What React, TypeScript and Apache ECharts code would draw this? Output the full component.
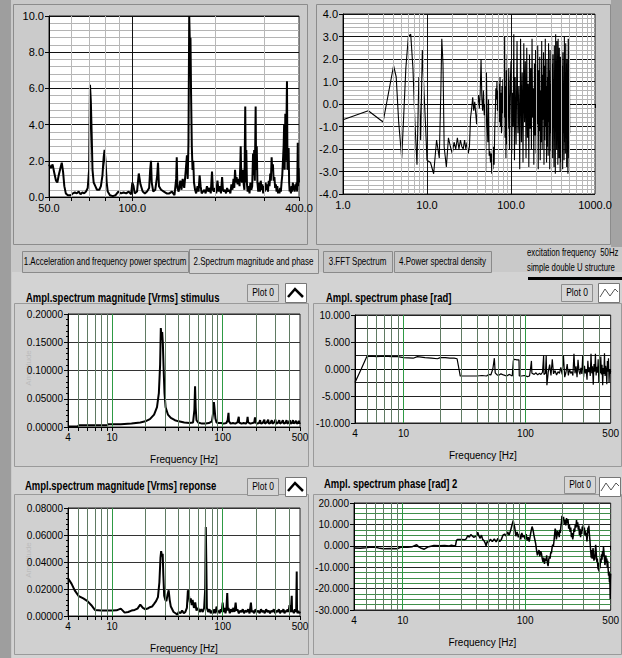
import React, { useEffect, useRef } from "react";
import * as echarts from "echarts";

// ---------- DATA ----------
// Chart 1: acceleration spectrum (50..400 Hz)
const accelSpectrum: number[][] = [
  [50,1.8],[50.8,1.6],[51.5,1.8],[52.3,1.3],[53,0.9],[53.6,0.8],[54.2,1.2],[55,1.6],[55.6,1.9],[56.2,1.4],[56.8,0.6],[57.5,0.2],[58.5,0.1],[60,0.1],[61,0.2],[62,0.25],[63,0.2],[64,0.3],[65,0.15],[66,0.25],[67,0.2],[68,0.3],[69,0.5],[69.8,1.5],[70.3,6.2],[70.8,5.3],[71.3,3.5],[71.8,1.5],[72.5,0.8],[73.5,0.6],[74.5,0.4],[76,0.4],[77,0.6],[78,1.2],[78.8,2.2],[79.4,2.6],[80,2.0],[80.8,0.8],[81.5,0.3],[83,0.1],[85,0.05],[87,0.1],[89,0.3],[91,0.2],[93,0.25],[95,0.2],[97,0.3],[99,0.15],[100,0.8],[101,0.6],[102,0.2],[104,0.3],[105.5,1.3],[107,0.7],[109,0.3],[111,0.2],[113,0.3],[115,0.5],[116,1.5],[116.8,2.0],[117.5,0.8],[119,0.3],[121,0.4],[123,1.2],[123.8,1.9],[124.8,0.6],[127,0.4],[130,0.3],[133,0.2],[136,0.2],[139,0.3],[142,0.1],[144,1.0],[144.7,2.2],[145.5,0.5],[147,0.3],[149,0.9],[150.5,0.4],[152,1.0],[154,0.5],[156,1.5],[157.5,2.3],[158.5,1.0],[159.5,3.0],[160.5,10.0],[161.3,8.6],[162.2,8.8],[163,5.7],[164,2.8],[165,1.5],[166,2.0],[167,0.8],[168.5,0.4],[170,0.2],[172,0.6],[173.5,0.3],[175,1.2],[176.5,0.6],[178,0.2],[180,0.3],[182,0.4],[184,0.2],[186,0.6],[188,0.3],[190,0.5],[192,0.2],[194,1.4],[195.5,0.4],[197,0.3],[199,0.5],[201,0.2],[203,0.9],[205,0.3],[207,0.6],[209,0.2],[211,1.1],[212.5,0.4],[214,0.3],[216,0.4],[218,0.2],[220,0.5],[222,0.3],[224,0.4],[226,0.2],[228,0.7],[230,0.4],[232,1.0],[233.5,0.5],[235,1.5],[236.5,0.8],[238,1.1],[240,0.7],[242,1.0],[244,0.6],[245.5,1.8],[246.3,2.8],[247.5,1.0],[249,0.8],[251,1.5],[252.5,0.7],[254,0.4],[255.8,5.0],[257,0.8],[258,2.6],[259.5,0.7],[261,0.3],[263,0.6],[265,0.2],[267,0.8],[269,0.4],[271,0.6],[273,2.4],[274.5,1.2],[275.5,2.6],[277,0.9],[278.9,5.0],[280,1.5],[281.5,2.8],[283,0.8],[285,0.3],[287,0.8],[289,0.3],[291,0.9],[293,0.4],[295,0.7],[297,0.2],[299,0.6],[301,0.3],[303,0.8],[305,0.4],[307,0.7],[309,0.3],[311,0.9],[313,0.6],[315,1.3],[316.5,0.9],[318.6,2.2],[320,1.5],[322,1.8],[324,0.9],[326,1.1],[328,0.5],[330,0.7],[332,0.3],[334,0.6],[336,0.2],[338,0.4],[340,0.2],[342,0.5],[344,0.3],[346,0.8],[348,1.2],[350,2.0],[352,2.8],[353.5,4.0],[355,1.5],[357,4.6],[359,2.0],[361.9,6.4],[363.5,1.5],[365,2.0],[366.9,2.7],[368.5,0.8],[370,0.3],[372,0.5],[374,0.2],[376,0.6],[378,0.3],[380,0.8],[382,0.4],[384,0.6],[386,0.3],[388,0.7],[390,0.4],[392,0.8],[394,0.3],[395.9,3.0],[397,0.6],[398.5,1.6],[400,0.8]
];

// Chart 2: FFT trace (1..1000 Hz)
const fftTrace: number[][] = [
  [1,-0.7],[2,-0.3],[3,-0.8],[4,1.7],[4.3,1.2],[4.6,-0.8],[5,-2.4],[5.3,-0.4],[5.6,1.6],[6,3.0],[6.4,3.1],[6.8,1.6],[7.2,-0.9],[7.6,-2.7],[8.0,1.2],[8.4,-1.6],[8.8,2.4],[9.2,0.6],[9.6,-0.9],[10,-2.5],[11,-2.6],[12,-3.1],[13,-1.6],[14,-2.4],[14.6,0.5],[15,2.9],[15.5,1.8],[16,-1.9],[17,-2.8],[18,-1.5],[19,-1.9],[20,-2.2],[21,-1.7],[22,-2.0],[23,-1.5],[24,-2.0],[25,-1.6],[26,-1.9],[27,-2.0],[28,-1.6],[29,-2.0],[30,-1.7],[31,-2.2],[32,-1.9],[33,-0.6],[34,-0.2],[35,0.3],[36,-0.3],[37,0.1],[38,-0.4],[39,-0.9],[40,0.0],[41,0.4],[42,-0.2],[43,0.5],[44,2.0],[45,0.2],[46,-0.3],[47,0.6],[48,-0.5],[49,0.0],[50,-3.0],[51,1.4],[52,-0.8],[53,-1.7],[54,0.2],[55,-2.3],[56,-2.1],[57,-2.6],[58,-2.2],[59,-3.1],[60,-2.0],[61,-2.9],[62,-1.9],[63,-2.7],[64,-1.2],[65,-0.4],[66,0.7],[67,0.2],[68,1.0],[69,-0.3],[70,0.6],[71,-1.4],[72,0.9],[73,-0.8],[74,1.2],[75,-1.0],[76,0.5],[77,-1.3],[78,0.8],[79,-0.4],[80,1.1],[81,-1.2],[82,0.4],[83,-0.6],[84,3.0],[85,-1.5],[86,0.8],[87,-2.4],[88,1.5],[89,-1.8],[90,2.2],[92,-1.1],[94,1.6],[96,-2.0],[98,0.9],
  [100,1.9],[102,-2.2],[104,0.5],[106,-1.0],[108,3.1],[110,-2.5],[112,1.2],[115,-1.8],[118,2.8],[121,-1.3],[124,0.8],[127,-2.9],[130,2.9],[133,-1.7],[136,1.4],[139,-2.6],[142,2.7],[145,-0.8],[148,1.9],[151,-2.4],[154,2.5],[157,-1.5],[160,0.9],[163,-2.8],[166,2.2],[169,-1.1],[172,1.6],[175,-2.0],[178,2.9],[181,-0.6],[184,0.7],[187,-2.7],[190,1.8],[193,-1.4],[196,2.4],[199,-2.2],[202,1.0],[205,-0.9],[208,2.6],[211,-2.9],[214,1.5],[217,-1.2],[220,2.1],[223,-2.5],[226,0.6],[229,-1.7],[232,2.8],[235,-2.0],[238,1.3],[241,-0.7],[244,2.3],[247,-2.7],[250,1.7],[253,-1.6],[256,2.9],[259,-1.0],[262,0.8],[265,-2.6],[268,2.0],[271,-1.9],[274,1.2],[277,-2.3],[280,2.7],[283,-0.8],[286,1.5],[289,-2.9],[292,2.4],[295,-1.3],[298,0.9],[301,-2.1],[304,3.0],[307,-1.6],[310,1.8],[313,-2.4],[316,2.2],[319,-0.9],[322,1.1],[325,-2.8],[328,2.6],[331,-1.4],[334,0.7],[337,-3.1],[340,3.1],[343,-1.2],[346,1.9],[349,-2.0],[352,2.8],[355,-0.6],[358,1.4],[361,-2.7],[364,2.9],[367,-1.8],[370,0.8],[373,-2.4],[376,2.5],[379,-1.1],[382,1.6],[385,-3.0],[388,2.1],[391,-1.5],[394,1.0],[397,-2.6],[400,2.8],[404,-0.8],[408,1.7],[412,-2.9],[416,2.3],[420,-1.3],[424,0.9],[428,-2.5],[432,3.0],[436,-1.7],[440,1.4],[444,-2.2],[448,2.7],[452,-0.9],[456,1.8],[460,-2.8],[464,2.0],[468,-1.4],[472,0.6],[476,-3.1],[480,2.9],[484,-1.0],[488,1.5],[492,-2.4],[496,2.9],[500,-1.3]
];

// Chart 3: stimulus magnitude [Vrms]
const stimulusMag: number[][] = [
  [4,0.001],[4.9,0.001],[5,0.003],[7,0.003],[9,0.003],[9.3,0.005],[12,0.005],[15,0.006],[18,0.008],[20,0.010],[22,0.014],[24,0.022],[25.5,0.035],[26.5,0.06],[27.2,0.11],[27.6,0.175],[28,0.16],[28.4,0.168],[28.8,0.148],[29.3,0.10],[29.8,0.06],[30.5,0.035],[32,0.022],[34,0.016],[37,0.012],[40,0.010],[45,0.008],[50,0.007],[54,0.008],[55.5,0.03],[56.3,0.072],[57,0.035],[58,0.012],[60,0.008],[65,0.006],[70,0.006],[75,0.007],[80,0.01],[82,0.025],[83.3,0.044],[84.5,0.032],[86,0.015],[88,0.008],[92,0.007],[97,0.007],[102,0.006],[108,0.007],[111,0.012],[112.9,0.025],[114,0.01],[118,0.006],[124,0.007],[130,0.006],[136,0.008],[139.8,0.018],[141,0.008],[148,0.006],[155,0.007],[162,0.006],[166,0.009],[168,0.018],[170,0.008],[178,0.006],[186,0.007],[193,0.008],[196,0.017],[198,0.008],[205,0.006],[213,0.007],[218,0.012],[221,0.006],[230,0.007],[238,0.013],[241,0.006],[250,0.008],[258,0.013],[261,0.006],[270,0.007],[278,0.012],[282,0.006],[292,0.008],[300,0.013],[304,0.006],[315,0.007],[325,0.012],[330,0.006],[342,0.008],[350,0.012],[356,0.006],[368,0.007],[378,0.012],[384,0.006],[396,0.008],[405,0.012],[410,0.006],[422,0.007],[432,0.012],[438,0.006],[450,0.008],[460,0.011],[466,0.006],[478,0.007],[488,0.011],[494,0.006],[500,0.008]
];

// Chart 4: stimulus phase [rad]
const stimulusPhase: number[][] = [
  [4,-2.5],[4.5,0.0],[5,2.3],[5.5,2.4],[6,2.3],[7,2.4],[8,2.3],[9,2.3],[10,2.1],[12,2.0],[13,2.3],[15,2.1],[17,2.0],[19,1.9],[20,2.1],[22,2.1],[24,2.0],[26,2.0],[27.5,1.9],[28.5,0.0],[29.2,-1.3],[32,-1.3],[36,-1.3],[40,-1.3],[44,-1.2],[48,-1.3],[50,-1.0],[52,-1.1],[54,0.0],[55.6,2.0],[56.5,-0.7],[58,-1.0],[60,-1.2],[63,-0.9],[66,-1.1],[70,-1.3],[74,-1.0],[78,-1.3],[79.5,1.5],[81,1.8],[85,1.7],[88.5,1.7],[89,-1.3],[93,-1.3],[98,-1.2],[104,-1.4],[108,-1.3],[110,0.0],[112,1.5],[113,-0.8],[118,-1.0],[122,-0.7],[126,-1.1],[130,-0.8],[134,-1.0],[138,-0.6],[141,2.5],[142,-1.0],[146,-0.8],[148,2.5],[150,-3.0],[154,-0.5],[158,0.8],[162,-1.2],[166,1.8],[170,-0.9],[175,-0.3],[180,-1.1],[185,-0.5],[190,-0.8],[195,0.3],[200,-1.0],[205,2.5],[210,-1.5],[215,-0.6],[220,0.9],[225,-1.2],[230,0.0],[235,-0.8],[240,-0.5],[245,-1.2],[250,2.8],[255,-0.8],[260,0.5],[265,-1.5],[270,1.7],[275,-0.4],[280,-1.0],[285,0.2],[290,-0.9],[295,2.5],[300,-1.5],[305,0.6],[310,-0.8],[315,-0.2],[320,-2.0],[325,1.5],[330,-0.6],[335,0.3],[340,-1.3],[345,2.8],[350,-0.8],[355,0.5],[360,-2.9],[365,0.9],[370,-0.5],[375,2.8],[380,-1.2],[385,0.4],[390,-0.7],[395,1.8],[400,-2.6],[405,0.5],[410,-0.8],[415,2.3],[420,-1.0],[425,0.8],[430,-3.0],[435,0.2],[440,-0.9],[445,2.9],[450,-1.3],[455,0.6],[460,-0.3],[465,-2.8],[470,1.5],[475,-0.5],[480,2.0],[485,-2.5],[490,0.0],[495,-0.9],[500,-0.4]
];

// Chart 5: response magnitude [Vrms]
const responseMag: number[][] = [
  [4,0.028],[4.3,0.024],[4.6,0.019],[5,0.0147],[5.5,0.013],[6,0.011],[6.5,0.008],[7,0.0045],[8,0.004],[9,0.004],[10,0.004],[11,0.0042],[12,0.0055],[12.5,0.004],[13,0.0025],[14,0.003],[15,0.004],[16,0.0045],[17,0.0055],[18,0.0085],[19,0.006],[20,0.005],[21,0.0055],[22,0.0065],[23,0.007],[24,0.009],[25,0.011],[26,0.014],[26.8,0.025],[27.4,0.043],[27.8,0.048],[28.3,0.044],[28.7,0.046],[29.1,0.03],[29.6,0.015],[30.3,0.012],[31,0.011],[31.8,0.016],[32.5,0.019],[33.2,0.012],[34,0.007],[35,0.005],[36,0.003],[37.5,0.002],[39,0.001],[40,0.003],[41.5,0.002],[43,0.004],[44.5,0.002],[46,0.003],[47.5,0.006],[48.5,0.019],[49.5,0.016],[50.5,0.01],[51.5,0.013],[52.5,0.008],[53.5,0.012],[55,0.006],[56.5,0.01],[58,0.004],[60,0.006],[62,0.003],[64,0.005],[66,0.003],[68,0.006],[69.5,0.02],[70.4,0.066],[71.2,0.038],[72,0.006],[74,0.003],[76,0.005],[78,0.002],[80,0.004],[82,0.002],[84,0.005],[86,0.002],[88,0.007],[90,0.003],[92,0.004],[94,0.002],[96,0.005],[98,0.003],[100,0.01],[102,0.003],[104,0.006],[106,0.002],[108,0.005],[110,0.017],[111.5,0.004],[113,0.006],[116,0.002],[119,0.005],[122,0.003],[125,0.006],[128,0.003],[131,0.01],[133,0.004],[136,0.005],[140,0.002],[144,0.004],[148,0.003],[152,0.005],[156,0.002],[160,0.004],[165,0.003],[170,0.005],[175,0.002],[180,0.01],[183,0.003],[188,0.004],[193,0.002],[198,0.005],[204,0.003],[210,0.004],[216,0.002],[222,0.005],[228,0.003],[234,0.004],[240,0.002],[247,0.005],[254,0.003],[261,0.004],[268,0.002],[275,0.004],[282,0.003],[290,0.005],[298,0.002],[306,0.004],[314,0.003],[322,0.005],[330,0.002],[338,0.004],[346,0.003],[354,0.005],[362,0.002],[370,0.004],[378,0.003],[386,0.005],[394,0.003],[402,0.008],[408,0.003],[414,0.004],[421,0.015],[424,0.003],[432,0.004],[440,0.002],[448,0.005],[456,0.003],[462,0.004],[467,0.033],[470,0.004],[476,0.002],[482,0.004],[488,0.002],[494,0.003],[500,0.002]
];

// Chart 6: response phase [rad]
const responsePhase: number[][] = [
  [4,-1.0],[4.5,-1.2],[5,-0.9],[5.5,-0.6],[6,-0.7],[6.5,-1.2],[7,-1.4],[8,-1.3],[9,-1.4],[9.5,-0.8],[10,-0.6],[11,-0.7],[12,-0.4],[13,0.5],[13.5,-0.5],[14,-1.0],[15,-1.6],[16,-0.6],[17,-0.2],[18,0.1],[20,0.0],[22,0.1],[24,-0.1],[25,0.3],[26,0.0],[27,0.1],[27.5,2.5],[28,3.0],[30,3.0],[32,2.8],[33,3.2],[34,4.8],[35,4.0],[36,5.2],[38,4.0],[40,4.5],[41,6.3],[42,4.5],[43,3.5],[44,5.0],[45,3.0],[46,2.5],[47,1.5],[48,0.0],[49,2.0],[50,1.5],[52,3.0],[54,2.0],[56,3.2],[58,1.8],[60,3.5],[62,2.0],[64,3.0],[66,5.0],[68,5.5],[70,4.5],[72,6.5],[74,5.0],[76,7.0],[78,9.5],[80,11.8],[81,10.0],[82,9.0],[83,7.0],[84,4.5],[86,6.5],[88,4.0],[90,5.5],[92,3.0],[94,6.0],[96,4.0],[98,5.0],[100,3.0],[102,5.5],[104,2.5],[106,4.0],[108,2.0],[110,4.5],[112,7.0],[114,9.0],[116,7.5],[118,5.0],[120,3.0],[122,1.0],[124,-2.0],[126,-4.5],[128,-3.0],[130,-2.0],[132,-5.0],[134,-2.5],[136,-3.5],[138,-6.0],[140,-7.5],[142,-5.5],[144,-8.5],[146,-6.0],[148,-7.0],[150,-4.5],[152,-8.0],[154,-9.5],[156,-6.5],[158,-5.0],[160,-6.0],[162,-3.0],[164,-3.5],[166,-1.0],[168,0.5],[170,-0.5],[172,2.0],[174,5.0],[176,8.0],[178,7.0],[180,3.0],[182,4.5],[184,7.0],[186,5.0],[188,6.5],[190,4.0],[192,7.5],[194,6.0],[196,9.0],[198,11.0],[200,14.0],[203,12.0],[206,13.5],[209,10.0],[212,12.0],[215,9.5],[218,13.0],[221,10.5],[224,12.5],[227,8.0],[230,10.0],[233,6.5],[236,8.5],[239,4.0],[242,6.0],[245,3.0],[248,5.0],[251,8.0],[254,6.5],[257,10.0],[260,8.5],[263,12.0],[266,9.0],[269,11.0],[272,7.5],[275,9.5],[278,5.0],[281,8.0],[284,4.0],[287,7.5],[290,5.5],[293,9.0],[296,7.0],[299,10.0],[302,6.0],[305,8.5],[308,5.0],[311,7.0],[314,4.5],[317,6.0],[320,2.0],[323,5.0],[326,8.5],[329,6.0],[332,9.5],[335,5.5],[338,3.0],[341,0.0],[344,-3.0],[347,-5.5],[350,-2.0],[353,-6.0],[356,-3.5],[359,-1.0],[362,-4.0],[365,-7.0],[368,-4.5],[371,-6.5],[374,-3.0],[377,0.5],[380,-2.0],[383,-5.0],[386,-7.5],[389,-6.0],[392,-9.0],[395,-11.0],[398,-8.0],[401,-12.0],[405,-9.0],[409,-10.5],[413,-6.0],[417,-8.0],[421,-4.0],[425,-6.5],[429,-2.5],[433,-5.0],[437,-0.5],[441,-3.0],[445,-6.0],[449,-9.0],[453,-7.0],[457,-4.5],[461,-8.0],[465,-6.0],[469,-10.0],[473,-7.0],[477,-11.0],[481,-14.0],[485,-12.0],[489,-17.0],[492,-13.0],[494,-20.0],[496,-25.0],[498,-16.0],[500,-13.0]
];

// Tick values / grid lines
const ticksTop1 = [50, 60, 70, 80, 90, 100, 200, 300, 400];
const labelsTop1 = [50, 100, 400];
const ticksTop2 = [1, 2, 3, 4, 5, 6, 7, 8, 9, 10, 20, 30, 40, 50, 60, 70, 80, 90, 100, 200, 300, 400, 500, 600, 700, 800, 900, 1000];
const labelsTop2 = [1, 10, 100, 1000];
const ticksLow = [4, 5, 6, 7, 8, 9, 10, 20, 30, 40, 50, 60, 70, 80, 90, 100, 200, 300, 400, 500];
const labelsLow = [4, 10, 100, 500];
const vTop1Light = [60, 70, 80, 90, 200, 300];
const vTop1Dark = [100];
const vTop2Light = [2, 3, 4, 5, 6, 7, 8, 9, 20, 30, 40, 50, 60, 70, 80, 90, 200, 300, 400, 500, 600, 700, 800, 900];
const vTop2Dark = [10, 100];
const vLowDim = [5, 6, 7, 8, 9, 20, 30, 40, 50, 60, 70, 80, 90, 200, 300, 400];
const vLowGreen = [10, 100];

const tabs = [
  "1.Acceleration and frequency power spectrum",
  "2.Spectrum magnitude and phase",
  "3.FFT Spectrum",
  "4.Power spectral density",
];
const infoLines = ["excitation frequency  50Hz", "simple double U structure"];
const panelTitles = [
  "Ampl.spectrum magnitude [Vrms] stimulus",
  "Ampl. spectrum phase [rad]",
  "Ampl.spectrum magnitude [Vrms] reponse",
  "Ampl. spectrum phase [rad] 2",
];

const FONT = '"Liberation Sans", Arial, sans-serif';

function buildOption() {
  const grids = [
    { left: 49, top: 16, width: 250, height: 181 },
    { left: 343, top: 14, width: 252, height: 180 },
    { left: 68, top: 314, width: 232, height: 113 },
    { left: 355, top: 315, width: 259, height: 108 },
    { left: 68, top: 508, width: 232, height: 108 },
    { left: 354, top: 503, width: 260, height: 107 },
  ].map((g) => ({
    ...g,
    show: true,
    backgroundColor: "#ffffff",
    borderColor: "#222",
    borderWidth: 1,
    containLabel: false,
  }));

  const lowFmt = (v: number) => String(Math.round(v));
  const xDefs = [
    { min: 50, max: 400, ticks: ticksTop1, labels: labelsTop1, fmt: (v: number) => v.toFixed(1), size: 11, name: "" },
    { min: 1, max: 1000, ticks: ticksTop2, labels: labelsTop2, fmt: (v: number) => v.toFixed(1), size: 11, name: "" },
    { min: 4, max: 500, ticks: ticksLow, labels: labelsLow, fmt: lowFmt, size: 11, name: "Frequency [Hz]" },
    { min: 4, max: 500, ticks: ticksLow, labels: labelsLow, fmt: lowFmt, size: 11, name: "Frequency [Hz]" },
    { min: 4, max: 500, ticks: ticksLow, labels: labelsLow, fmt: lowFmt, size: 11, name: "Frequency [Hz]" },
    { min: 4, max: 500, ticks: ticksLow, labels: labelsLow, fmt: lowFmt, size: 11, name: "Frequency [Hz]" },
  ];
  const xAxis = xDefs.map((d, i) => ({
    type: "log",
    logBase: 10,
    gridIndex: i,
    min: d.min,
    max: d.max,
    name: d.name,
    nameLocation: "middle",
    nameGap: 27,
    nameTextStyle: { fontFamily: FONT, fontSize: 10, color: "#000" },
    axisLine: { show: true, lineStyle: { color: "#000", width: 1 } },
    axisTick: { show: true, length: 4, lineStyle: { color: "#000" }, customValues: d.ticks },
    axisLabel: {
      show: true,
      customValues: d.labels,
      formatter: d.fmt,
      fontFamily: FONT,
      fontSize: i < 2 ? 11 : 10,
      color: "#000",
      margin: 5,
    },
    splitLine: { show: false },
    minorTick: { show: false },
  }));

  const yDefs = [
    { min: 0, max: 10, interval: 2, minor: 5, fmt: (v: number) => v.toFixed(1), major: "#111", minorC: "#b4b4b4", minorTick: false },
    { min: -4, max: 4, interval: 1, minor: 5, fmt: (v: number) => v.toFixed(1), major: "#111", minorC: "#b4b4b4", minorTick: false },
    { min: 0, max: 0.2, interval: 0.05, minor: 5, fmt: (v: number) => v.toFixed(5), major: "#333", minorC: "", minorTick: true },
    { min: -10, max: 10, interval: 5, minor: 2, fmt: (v: number) => v.toFixed(3), major: "#222", minorC: "#222", minorTick: false },
    { min: 0, max: 0.08, interval: 0.02, minor: 5, fmt: (v: number) => v.toFixed(5), major: "#333", minorC: "", minorTick: true },
    { min: -30, max: 20, interval: 10, minor: 4, fmt: (v: number) => v.toFixed(3), major: "#222", minorC: "#3f8f4a", minorTick: false },
  ];
  const yAxis = yDefs.map((d, i) => ({
    type: "value",
    gridIndex: i,
    min: d.min,
    max: d.max,
    interval: d.interval,
    axisLine: { show: true, lineStyle: { color: "#000" } },
    axisTick: { show: true, length: 4, lineStyle: { color: "#000" } },
    minorTick: { show: d.minorTick, splitNumber: d.minor, length: 2, lineStyle: { color: "#000" } },
    axisLabel: { formatter: d.fmt, fontFamily: FONT, fontSize: i < 2 ? 11 : 10, color: "#000", margin: 5 },
    splitLine: { show: true, lineStyle: { color: d.major, width: 1 } },
    minorSplitLine: { show: !!d.minorC, lineStyle: { color: d.minorC || "#000", width: 1 } },
  }));

  const vlines = (i: number, groups: [number[], string][]) => ({
    type: "line",
    xAxisIndex: i,
    yAxisIndex: i,
    data: [],
    silent: true,
    z: 1,
    markLine: {
      silent: true,
      symbol: ["none", "none"],
      label: { show: false },
      lineStyle: { type: "solid", width: 1 },
      data: groups.flatMap(([vals, color]) => vals.map((v) => ({ xAxis: v, lineStyle: { color, type: "solid", width: 1 } }))),
    },
  });

  const trace = (i: number, data: number[][], width: number) => ({
    type: "line",
    xAxisIndex: i,
    yAxisIndex: i,
    data,
    showSymbol: false,
    symbol: "none",
    z: 3,
    lineStyle: { color: "#000", width },
  });

  const series = [
    vlines(0, [[vTop1Light, "#b8b8b8"], [vTop1Dark, "#111"]]),
    vlines(1, [[vTop2Light, "#b8b8b8"], [vTop2Dark, "#111"]]),
    vlines(2, [[vLowDim, "#5f7a62"], [vLowGreen, "#2e9a44"]]),
    vlines(3, [[vLowDim, "#5f7a62"], [vLowGreen, "#2e9a44"]]),
    vlines(4, [[vLowDim, "#5f7a62"], [vLowGreen, "#2e9a44"]]),
    vlines(5, [[vLowDim, "#5f7a62"], [vLowGreen, "#2e9a44"]]),
    trace(0, accelSpectrum, 2),
    trace(1, fftTrace, 1.1),
    trace(2, stimulusMag, 2),
    trace(3, stimulusPhase, 1.2),
    trace(4, responseMag, 2),
    trace(5, responsePhase, 1.5),
  ];

  // ---- LabVIEW-style panel chrome ----
  const bg: any[] = [
    { type: "rect", shape: { x: 0, y: 0, width: 622, height: 658 }, style: { fill: "#c9c9c9" } },
    { type: "rect", shape: { x: 0, y: 0, width: 11, height: 658 }, style: { fill: "#9e9e9e" } },
    { type: "rect", shape: { x: 611, y: 0, width: 11, height: 247 }, style: { fill: "#a4a4a4" } },
    { type: "rect", shape: { x: 13.5, y: 4.5, width: 294, height: 240 }, style: { fill: "#cbcbcb", stroke: "#8c8c8c", lineWidth: 1 } },
    { type: "rect", shape: { x: 316.5, y: 4.5, width: 294, height: 240 }, style: { fill: "#cbcbcb", stroke: "#8c8c8c", lineWidth: 1 } },
    { type: "rect", shape: { x: 12, y: 272, width: 610, height: 386 }, style: { fill: "#d3d3d3" } },
    { type: "rect", shape: { x: 14.5, y: 303.5, width: 294, height: 163 }, style: { fill: "#d0d0d0", stroke: "#9a9a9a", lineWidth: 1 } },
    { type: "rect", shape: { x: 313.5, y: 303.5, width: 308, height: 163 }, style: { fill: "#d0d0d0", stroke: "#9a9a9a", lineWidth: 1 } },
    { type: "rect", shape: { x: 14.5, y: 494.5, width: 294, height: 160 }, style: { fill: "#d0d0d0", stroke: "#9a9a9a", lineWidth: 1 } },
    { type: "rect", shape: { x: 313.5, y: 494.5, width: 308, height: 160 }, style: { fill: "#d0d0d0", stroke: "#9a9a9a", lineWidth: 1 } },
  ];
  const tabBoxes = [
    { x: 22, w: 166, sel: false },
    { x: 189, w: 129, sel: true },
    { x: 323, w: 69, sel: false },
    { x: 394, w: 97, sel: false },
  ];
  tabBoxes.forEach((t, k) => {
    bg.push({
      type: "rect",
      shape: { x: t.x + 0.5, y: t.sel ? 249.5 : 251.5, width: t.w, height: t.sel ? 24 : 21 },
      style: { fill: t.sel ? "#d3d3d3" : "#c6c6c6", stroke: "#8a8a8a", lineWidth: 1 },
    });
    bg.push({
      type: "text",
      x: t.x + t.w / 2,
      y: 262,
      scaleX: 0.8,
      style: { text: tabs[k], fontFamily: FONT, fontSize: 10, fill: "#000", align: "center", verticalAlign: "middle" },
    });
  });
  infoLines.forEach((t, k) =>
    bg.push({ type: "text", x: 527, y: 253 + k * 15, scaleX: 0.74, style: { text: t, fontFamily: FONT, fontSize: 10.5, fill: "#000", verticalAlign: "middle" } })
  );
  bg.push({ type: "rect", shape: { x: 528, y: 277, width: 94, height: 3 }, style: { fill: "#000" } });

  const titlePos = [
    { x: 26, y: 297 },
    { x: 326, y: 297 },
    { x: 25, y: 485 },
    { x: 324, y: 483 },
  ];
  titlePos.forEach((p, k) =>
    bg.push({
      type: "text",
      x: p.x,
      y: p.y,
      scaleX: 0.73,
      style: { text: panelTitles[k], fontFamily: FONT, fontSize: 13, fontWeight: "bold", fill: "#000", verticalAlign: "middle" },
    })
  );

  const legends = [
    { bx: 247, by: 284, ix: 285, iy: 283, thick: true },
    { bx: 561, by: 284, ix: 598, iy: 283, thick: false },
    { bx: 247, by: 478, ix: 285, iy: 477, thick: true },
    { bx: 564, by: 476, ix: 599, iy: 477, thick: false },
  ];
  legends.forEach((l) => {
    bg.push(
      { type: "rect", shape: { x: l.bx + 0.5, y: l.by + 0.5, width: 31, height: 17 }, style: { fill: "#d6d6d6", stroke: "#8e8e8e", lineWidth: 1 } },
      { type: "text", x: l.bx + 16, y: l.by + 9, scaleX: 0.85, style: { text: "Plot 0", fontFamily: FONT, fontSize: 10, fill: "#000", align: "center", verticalAlign: "middle" } },
      { type: "rect", shape: { x: l.ix + 0.5, y: l.iy + 0.5, width: 21, height: 19 }, style: { fill: "#ffffff", stroke: "#777", lineWidth: 1 } },
      l.thick
        ? { type: "polyline", shape: { points: [[l.ix + 3, l.iy + 14], [l.ix + 10, l.iy + 6], [l.ix + 18, l.iy + 14]] }, style: { stroke: "#000", lineWidth: 2.5, fill: "none" } }
        : { type: "polyline", shape: { points: [[l.ix + 2, l.iy + 14], [l.ix + 7, l.iy + 6], [l.ix + 12, l.iy + 13], [l.ix + 17, l.iy + 6], [l.ix + 20, l.iy + 9]] }, style: { stroke: "#555", lineWidth: 1, fill: "none" } }
    );
  });

  // faint y-axis name (mostly clipped in original)
  [[28, 368], [28, 560]].forEach(([x, y]) =>
    bg.push({
      type: "text",
      x,
      y,
      rotation: Math.PI / 2,
      style: { text: "Amplitude", fontFamily: FONT, fontSize: 8, fill: "#bcbcbc", align: "center", verticalAlign: "middle" },
    })
  );

  return {
    animation: false,
    backgroundColor: "#c9c9c9",
    graphic: { elements: bg.map((e) => ({ ...e, z: -10, silent: true })) },
    grid: grids,
    xAxis,
    yAxis,
    series,
  };
}

export default function App() {
  const ref = useRef<HTMLDivElement>(null);
  useEffect(() => {
    if (!ref.current) return;
    const chart = echarts.init(ref.current, null, { renderer: "svg" });
    chart.setOption(buildOption() as any);
    return () => chart.dispose();
  }, []);
  return <div ref={ref} style={{ position: "fixed", left: 0, top: 0, width: 622, height: 658 }} />;
}
